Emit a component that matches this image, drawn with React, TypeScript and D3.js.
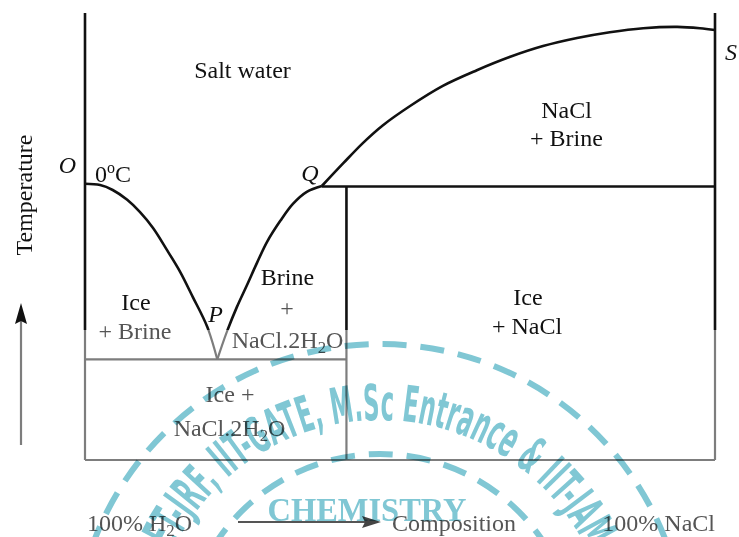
import React from "react";
import * as d3 from "d3";

// ---------- data (composition in % NaCl, temperature in arbitrary units: 0 = base, 100 = top of axes)
const iceLiquidusX = [0, 2.4, 4.4, 6.7, 8.7, 10.8, 13.0, 15.1, 17.1, 19.4, 21.0];
const iceLiquidusT = [61.8, 61.5, 60.4, 58.2, 55.5, 51.9, 47.0, 42.1, 36.5, 29.8, 22.5];

const hydrateLiquidusX = [21.0, 22.5, 24.1, 25.7, 27.3, 28.9, 31.0, 33.0, 35.2, 37.6];
const hydrateLiquidusT = [22.5, 28.6, 34.2, 39.1, 44.1, 48.8, 53.5, 57.3, 60.0, 61.3];

const saltLiquidusX = [37.6, 41.0, 44.1, 47.3, 51.6, 56.8, 62.2, 67.5, 72.7, 78.1, 83.3, 88.6, 94.0, 97.6, 100];
const saltLiquidusT = [61.3, 66.4, 70.9, 74.9, 79.2, 83.7, 87.2, 90.2, 92.6, 94.4, 95.7, 96.6, 96.9, 96.6, 96.2];

const eutecticT = 22.5;
const peritecticT = 61.2;
const hydrateComposition = 41.5;
const compositionDomain = [0, 100];
const temperatureDomain = [0, 100];

const W = 739;
const H = 537;

const x = d3.scaleLinear().domain(compositionDomain).range([85, 715]);
const y = d3.scaleLinear().domain(temperatureDomain).range([460, 13]);

const line = d3
  .line<[number, number]>()
  .x((d) => x(d[0]))
  .y((d) => y(d[1]))
  .curve(d3.curveCatmullRom.alpha(0.5));

const zip = (xs: number[], ts: number[]) => xs.map((v, i) => [v, ts[i]] as [number, number]);

const SERIF = "'Liberation Serif', 'Times New Roman', serif";
const WM = "#80c7d4";

function Structure({ stroke, width }: { stroke: string; width: number }) {
  const segs: [number, number][][] = [
    [[0, 0], [0, 100]],
    [[100, 0], [100, 100]],
    [[0, 0], [100, 0]],
    [[0, eutecticT], [hydrateComposition, eutecticT]],
    [[hydrateComposition, 0], [hydrateComposition, peritecticT]],
    [[hydrateLiquidusX[hydrateLiquidusX.length - 1], peritecticT], [100, peritecticT]],
  ];
  return (
    <g fill="none" stroke={stroke} strokeWidth={width}>
      {segs.map((s, i) => (
        <line key={i} x1={x(s[0][0])} y1={y(s[0][1])} x2={x(s[1][0])} y2={y(s[1][1])} />
      ))}
      <path d={line(zip(iceLiquidusX, iceLiquidusT)) || ""} />
      <path d={line(zip(hydrateLiquidusX, hydrateLiquidusT)) || ""} />
      <path d={line(zip(saltLiquidusX, saltLiquidusT)) || ""} />
    </g>
  );
}

function H2O({ fs }: { fs: number }) {
  return (
    <>
      H<tspan fontSize={fs * 0.7} dy={5}>2</tspan>
      <tspan dy={-5}>O</tspan>
    </>
  );
}

export default function App() {
  const split = 330;
  const cx = 380;
  const cy = 650;
  const r = 230;
  const a0 = (-69 * Math.PI) / 180;
  const a1 = (64 * Math.PI) / 180;
  const p0 = [cx + r * Math.sin(a0), cy - r * Math.cos(a0)];
  const p1 = [cx + r * Math.sin(a1), cy - r * Math.cos(a1)];
  const arcLen = r * (a1 - a0);
  const black = "#111";
  const grayText = "#555";

  return (
    <svg
      width={W}
      height={H}
      viewBox={`0 0 ${W} ${H}`}
      style={{ position: "absolute", left: 0, top: 0, background: "#fff" }}
      fontFamily={SERIF}
      fontSize={24}
    >
      <defs>
        <clipPath id="topClip">
          <rect x={0} y={0} width={W} height={split} />
        </clipPath>
        <clipPath id="botClip">
          <rect x={0} y={split} width={W} height={H - split} />
        </clipPath>
        <path id="wmArc" d={`M${p0[0]},${p0[1]} A${r},${r} 0 0 1 ${p1[0]},${p1[1]}`} />
      </defs>
      <rect x={0} y={0} width={W} height={H} fill="#fff" />

      <g clipPath="url(#topClip)">
        <Structure stroke={black} width={2.6} />
      </g>
      <g clipPath="url(#botClip)">
        <Structure stroke="#7d7d7d" width={2.2} />
      </g>

      {/* y-axis title and arrow */}
      <text transform="translate(32,195) rotate(-90)" textAnchor="middle" fill={black}>
        Temperature
      </text>
      <line x1={21} y1={445} x2={21} y2={318} stroke="#7d7d7d" strokeWidth={2.2} />
      <path d="M21,303 L15,324 L21,321 L27,324 Z" fill={black} />

      {/* point labels */}
      <text x={67.5} y={173} textAnchor="middle" fontStyle="italic" fill={black}>O</text>
      <text x={95} y={182} fill={black}>
        0<tspan fontSize={16} dy={-9}>o</tspan>
        <tspan dy={9}>C</tspan>
      </text>
      <text x={310} y={181} textAnchor="middle" fontStyle="italic" fill={black}>Q</text>
      <text x={731} y={60} textAnchor="middle" fontStyle="italic" fill={black}>S</text>
      <text x={215.5} y={322} textAnchor="middle" fontStyle="italic" fill={black}>P</text>

      {/* region labels */}
      <text x={242.5} y={78} textAnchor="middle" fill={black}>Salt water</text>
      <text x={566.5} y={118} textAnchor="middle" fill={black}>NaCl</text>
      <text x={566.5} y={146} textAnchor="middle" fill={black}>+ Brine</text>
      <text x={136} y={310} textAnchor="middle" fill={black}>Ice</text>
      <text x={135} y={339} textAnchor="middle" fill={grayText}>+ Brine</text>
      <text x={287.5} y={285} textAnchor="middle" fill={black}>Brine</text>
      <text x={287} y={316} textAnchor="middle" fill={grayText}>+</text>
      <text x={287.5} y={348} textAnchor="middle" fill={grayText}>
        NaCl.2<H2O fs={24} />
      </text>
      <text x={528} y={305} textAnchor="middle" fill={black}>Ice</text>
      <text x={527} y={334} textAnchor="middle" fill={black}>+ NaCl</text>
      <text x={230} y={402} textAnchor="middle" fill={grayText}>Ice +</text>
      <text x={229.5} y={436} textAnchor="middle" fill={grayText}>
        NaCl.2<H2O fs={24} />
      </text>

      {/* composition axis labels */}
      <text x={87} y={531} fill={grayText}>
        100% <H2O fs={24} />
      </text>
      <line x1={238} y1={522} x2={366} y2={522} stroke="#555" strokeWidth={2} />
      <path d="M381,522 L362,516 L365,522 L362,528 Z" fill="#444" />
      <text x={392} y={531} fill={grayText}>Composition</text>
      <text x={715} y={531} textAnchor="end" fill={grayText}>100% NaCl</text>

      {/* watermark */}
      <g style={{ mixBlendMode: "multiply" }}>
        <circle cx={cx} cy={cy} r={306} fill="none" stroke={WM} strokeWidth={6} strokeDasharray="24 14" />
        <circle cx={cx} cy={cy} r={196} fill="none" stroke={WM} strokeWidth={6} strokeDasharray="24 14" />
        <text
          fontFamily="'DejaVu Sans', sans-serif"
          fontWeight="bold"
          fontSize={50}
          fill={WM}
        >
          <textPath href="#wmArc" textLength={arcLen} lengthAdjust="spacingAndGlyphs">
            NET-JRF, IIT-GATE, M.Sc Entrance &amp; IIT-JAM
          </textPath>
        </text>
        <text
          x={367}
          y={521}
          textAnchor="middle"
          fontFamily={SERIF}
          fontWeight="bold"
          fontSize={34}
          fill={WM}
          textLength={199}
          lengthAdjust="spacingAndGlyphs"
        >
          CHEMISTRY
        </text>
      </g>
    </svg>
  );
}
